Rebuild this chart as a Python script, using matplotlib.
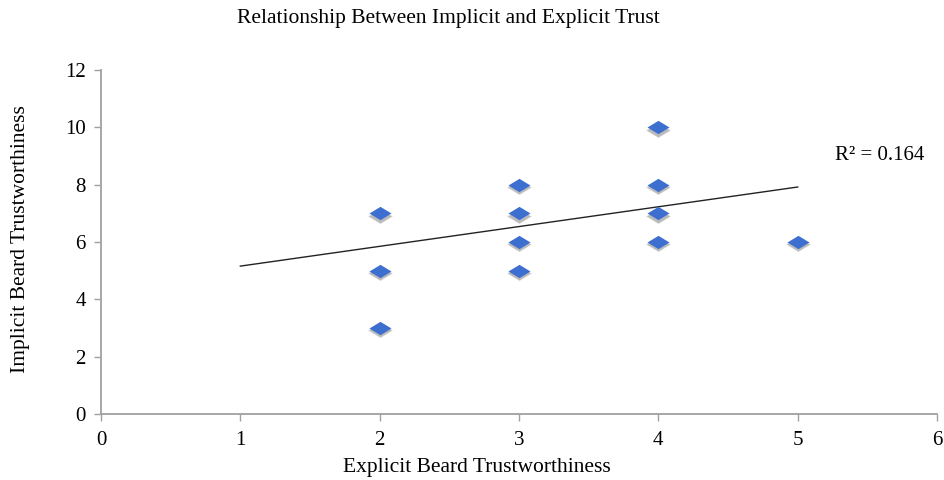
import matplotlib
matplotlib.use("Agg")
import matplotlib.pyplot as plt
import numpy as np
from matplotlib.path import Path

explicit = [2, 2, 2, 3, 3, 3, 3, 4, 4, 4, 4, 5]
implicit = [7, 5, 3, 8, 7, 6, 5, 10, 8, 7, 6, 6]
trend_x = [1, 5]
trend_slope = 0.69
trend_intercept = 4.47
r2_text = "R² = 0.164"

plt.rcParams['font.family'] = ['Liberation Serif', 'DejaVu Serif']

fig = plt.figure(figsize=(9.44, 4.8), dpi=100)
ax = fig.add_axes([0.107, 0.1375, 0.8856, 0.7165])

diamond = Path([(0, 1), (1.65, 0), (0, -1), (-1.65, 0), (0, 1)],
               [Path.MOVETO, Path.LINETO, Path.LINETO, Path.LINETO, Path.CLOSEPOLY])

tx = np.array(trend_x, dtype=float)
ax.plot(tx, trend_intercept + trend_slope * tx, color='#222222', lw=1.0, zorder=2)

ex = np.array(explicit, dtype=float)
im = np.array(implicit, dtype=float)
for size, alpha in [(340, 0.08), (300, 0.12), (260, 0.18)]:
    ax.scatter(ex, im - 0.08, marker=diamond, s=size, color='#333333',
               alpha=alpha, linewidths=0, zorder=3)
ax.scatter(ex, im, marker=diamond, s=250, color='#3d6fd1',
           linewidths=0, zorder=4)

ax.text(5.27, 9.03, r2_text, fontsize=15, va='center', ha='left')

ax.set_xlim(0, 6)
ax.set_ylim(0, 12)
ax.set_xticks(range(0, 7))
ax.set_yticks(range(0, 13, 2))
for s in ['top', 'right']:
    ax.spines[s].set_visible(False)
for s in ['left', 'bottom']:
    ax.spines[s].set_color('#a0a0a0')
    ax.spines[s].set_linewidth(1.3)
ax.tick_params(colors='#a0a0a0', labelcolor='black', labelsize=15, length=5, width=1)
ax.tick_params(axis='x', pad=7)
ax.tick_params(axis='y', pad=6)

ax.set_xlabel('Explicit Beard Trustworthiness', fontsize=15.5)
ax.xaxis.set_label_coords(0.45, -0.128)
ax.set_ylabel('Implicit Beard Trustworthiness', fontsize=15.5)
ax.yaxis.set_label_coords(-0.085, 0.51)
fig.text(0.475, 0.962, 'Relationship Between Implicit and Explicit Trust', fontsize=15.5,
         ha='center', va='center')

fig.savefig('out.png', dpi=100)
